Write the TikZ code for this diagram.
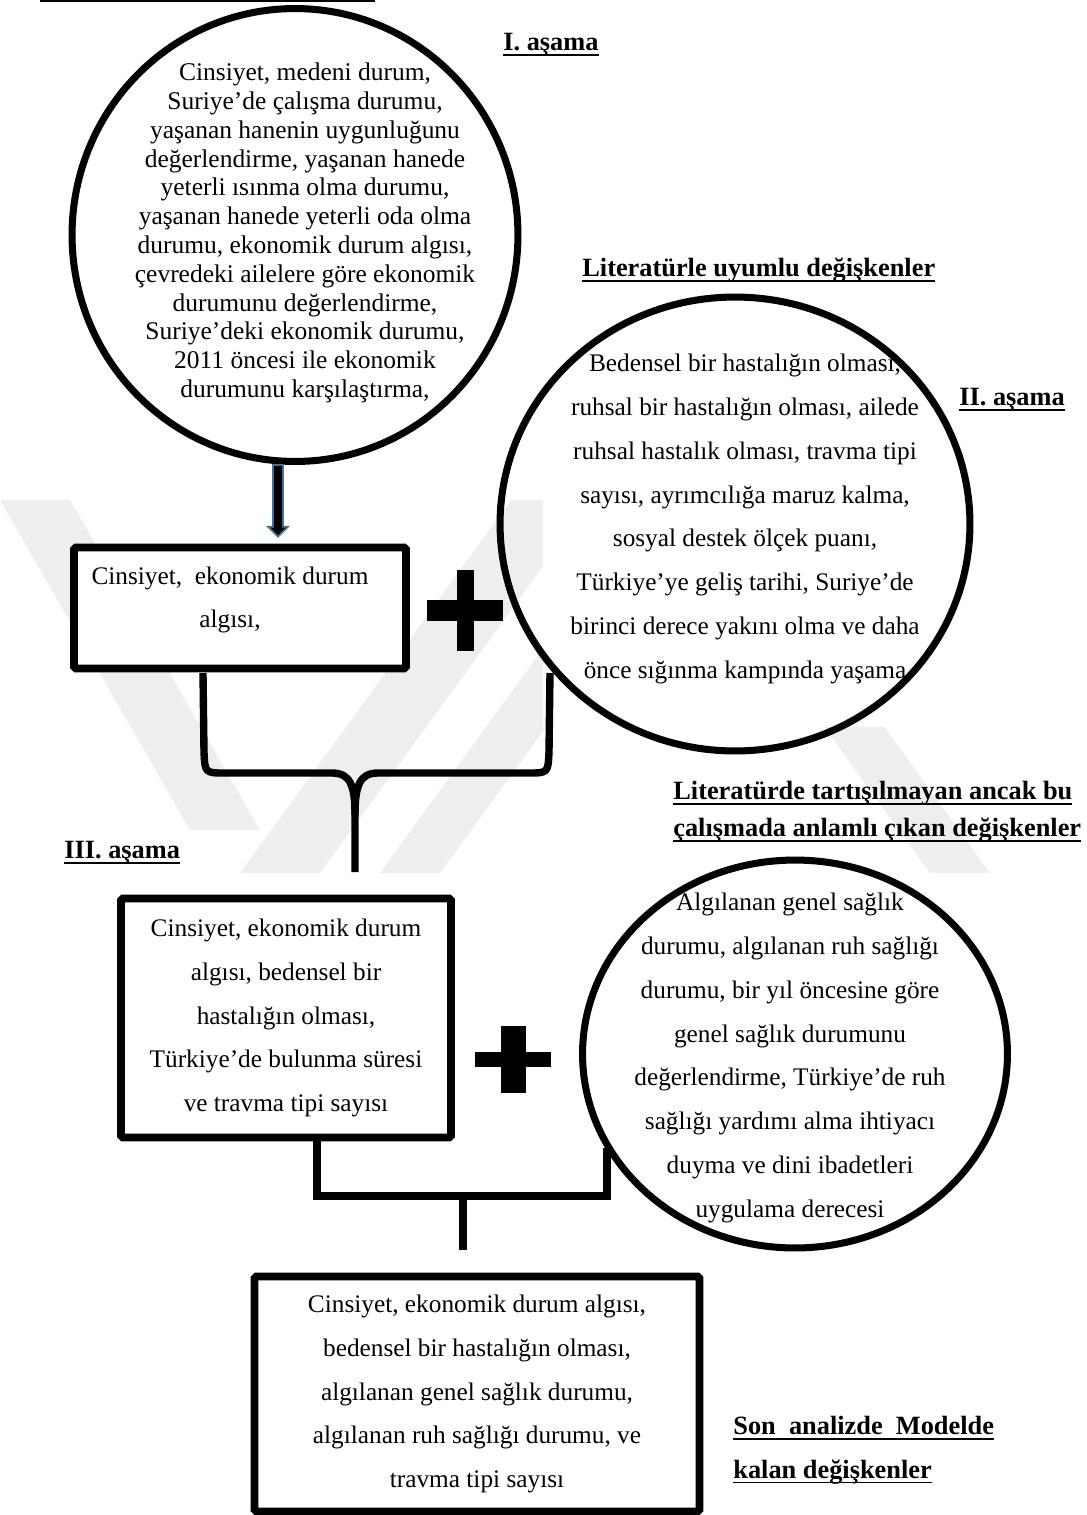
\documentclass[tikz,border=0pt]{standalone}
\usepackage{fontspec}
\setmainfont{Liberation Serif}
\usetikzlibrary{%
	calc,%
	shapes.geometric,%
	positioning,%
}
\definecolor{cblue}{RGB}{65, 113, 156}
\definecolor{cwater}{RGB}{238, 238, 238}
\tikzset{
	nodes={align=center},%
	ring/.style={%
			draw,%
			ellipse,%
			line width=4pt,%
			inner sep=0},%
	stagebox/.style={%
			draw,%
			rectangle,%
			line width=4.4pt,%
			rounded corners=1pt,%
			inner sep=0,%
			fill=white},%
	bodytext/.style={%
			font={\fontsize{14.4}{24.9}\selectfont}},%
	densetext/.style={%
			font={\fontsize{14.5}{16.4}\selectfont}},%
	stagelabel/.style={%
			font={\fontsize{15}{21}\selectfont\bfseries},%
			anchor=west,%
			inner sep=0,%
			align=left},%
	joint/.style={%
			line width=4.2pt,%
			line join=round},%
	arrowbody/.style={%
			draw=cblue,%
			fill=black,%
			line width=1pt},%
	stripe/.style={%
			fill=cwater},%
}
\newcommand{\ulabel}[1]{\setbox0\hbox{#1}\rlap{\rule[-3pt]{\wd0}{1.1pt}}\box0}

\begin{document}
\begin{tikzpicture}[x=0.02cm, y=-0.02cm]%
	\useasboundingbox (0,0) rectangle (1087,1515);

	% faint watermark
	\begin{scope}
		\clip (0,500) rectangle (1087,873);
		\fill[stripe] (0,500) -- (70,500) -- (260,830) -- (190,830) -- cycle;
		\fill[stripe] (240,873) -- (320,873) -- (591,500) -- (511,500) -- cycle;
		\fill[stripe] (380,873) -- (440,873) -- (711,500) -- (651,500) -- cycle;
		\fill[stripe] (660,500) -- (720,500) -- (990,873) -- (930,873) -- cycle;
	\end{scope}

	% cut-off heading rule at the top
	\draw[line width=1.1pt] (40,1) -- (375,1);

	% stage I
	\node[densetext] (t1) at (305,233) {Cinsiyet, medeni durum,\\
			Suriye’de çalışma durumu,\\
			yaşanan hanenin uygunluğunu\\
			değerlendirme, yaşanan hanede\\
			yeterli ısınma olma durumu,\\
			yaşanan hanede yeterli oda olma\\
			durumu, ekonomik durum algısı,\\
			çevredeki ailelere göre ekonomik\\
			durumunu değerlendirme,\\
			Suriye’deki ekonomik durumu,\\
			2011 öncesi ile ekonomik\\
			durumunu karşılaştırma,};
	\node[ring, minimum width=8.92cm, minimum height=9.06cm] (c1) at (295,235) {};
	\node[stagelabel] (l1) at (503,45) {\ulabel{I. aşama}};

	\node[stagebox, minimum width=6.64cm, minimum height=2.42cm] (b1) at (240,608) {};
	\node[bodytext] (bt1) at (230,600) {Cinsiyet,\ \ ekonomik durum\\algısı,};

	% stage II
	\node[stagelabel] (l2) at (582,270) {\ulabel{Literatürle uyumlu değişkenler}};
	\node[bodytext, fill=white, minimum width=8.1cm, minimum height=8.32cm, inner sep=0] (t2) at (745,519) {Bedensel bir hastalığın olması,\\
			ruhsal bir hastalığın olması, ailede\\
			ruhsal hastalık olması, travma tipi\\
			sayısı, ayrımcılığa maruz kalma,\\
			sosyal destek ölçek puanı,\\
			Türkiye’ye geliş tarihi, Suriye’de\\
			birinci derece yakını olma ve daha\\
			önce sığınma kampında yaşama};
	\node[ring, minimum width=9.4cm, minimum height=9.08cm] (c2) at (735,524) {};
	\node[stagelabel] (l3) at (959,400) {\ulabel{II. aşama}};

	\node[fill=black, minimum width=1.52cm, minimum height=0.42cm, inner sep=0] (plus1h) at (465,610) {};
	\node[fill=black, minimum width=0.34cm, minimum height=1.62cm, inner sep=0] (plus1v) at (465,610) {};

	% stage III
	\node[stagelabel] (l4) at (673,812) {\ulabel{Literatürde tartışılmayan ancak bu}\\
			\ulabel{çalışmada anlamlı çıkan değişkenler}};
	\node[stagelabel] (l5) at (64,853) {\ulabel{III. aşama}};

	\node[stagebox, minimum width=6.6cm, minimum height=4.78cm, bodytext] (b2) at (286,1018) {Cinsiyet, ekonomik durum\\
			algısı, bedensel bir\\
			hastalığın olması,\\
			Türkiye’de bulunma süresi\\
			ve travma tipi sayısı};

	\node[bodytext, fill=white, inner sep=1pt] (t3) at (790,1058) {Algılanan genel sağlık\\
			durumu, algılanan ruh sağlığı\\
			durumu, bir yıl öncesine göre\\
			genel sağlık durumunu\\
			değerlendirme, Türkiye’de ruh\\
			sağlığı yardımı alma ihtiyacı\\
			duyma ve dini ibadetleri\\
			uygulama derecesi};
	\node[ring, minimum width=8.5cm, minimum height=7.76cm] (c3) at (795,1054) {};

	\node[fill=black, minimum width=1.54cm, minimum height=0.3cm, inner sep=0] (plus2h) at (513,1059) {};
	\node[fill=black, minimum width=0.5cm, minimum height=1.34cm, inner sep=0] (plus2v) at (513,1059) {};

	% final model
	\node[stagebox, minimum width=8.9cm, minimum height=4.7cm, bodytext] (b3) at (477,1394) {Cinsiyet, ekonomik durum algısı,\\
			bedensel bir hastalığın olması,\\
			algılanan genel sağlık durumu,\\
			algılanan ruh sağlığı durumu, ve\\
			travma tipi sayısı};
	\node[stagelabel, font={\fontsize{15}{25}\selectfont\bfseries}] (l6) at (733,1450) {\ulabel{Son\ \ analizde\ \ Modelde}\\
			\ulabel{kalan değişkenler}};

	% connectors
	\coordinate (arr) at (278,0);
	\coordinate (a0) at (c1.south -| arr);
	\coordinate (a1) at ($(b1.north -| arr)+(0,-7)$);
	\filldraw[arrowbody] ($(a0)+(-5,0)$) -- ($(a1)+(-5,-10)$) -- ($(a1)+(-10,-10)$) -- (a1)
		-- ($(a1)+(10,-10)$) -- ($(a1)+(5,-10)$) -- ($(a0)+(5,0)$) -- cycle;

	\coordinate (braceL) at (203,673);
	\coordinate (braceR) at (550,673);
	\coordinate (braceTip) at (355,872);
	\draw[joint] (braceL) -- (204,752) .. controls (205,773) .. (225,773) -- (332,773)
		.. controls (350,773) and (355,785) .. (355,815) -- (braceTip);
	\draw[joint] (braceR) -- (549,752) .. controls (548,773) .. (528,773) -- (378,773)
		.. controls (360,773) and (355,785) .. (355,815);

	\coordinate (jl) at (317,1196);
	\coordinate (jr) at (607,1196);
	\coordinate (jm) at (463,1196);
	\coordinate (c3in) at (607,1148);
	\coordinate (stemEnd) at (463,1250);
	\draw[joint, line join=miter] (b2.south -| jl) -- (jl) -- (jr) -- (c3in);
	\draw[joint] (jm) -- (stemEnd);
\end{tikzpicture}
\end{document}
